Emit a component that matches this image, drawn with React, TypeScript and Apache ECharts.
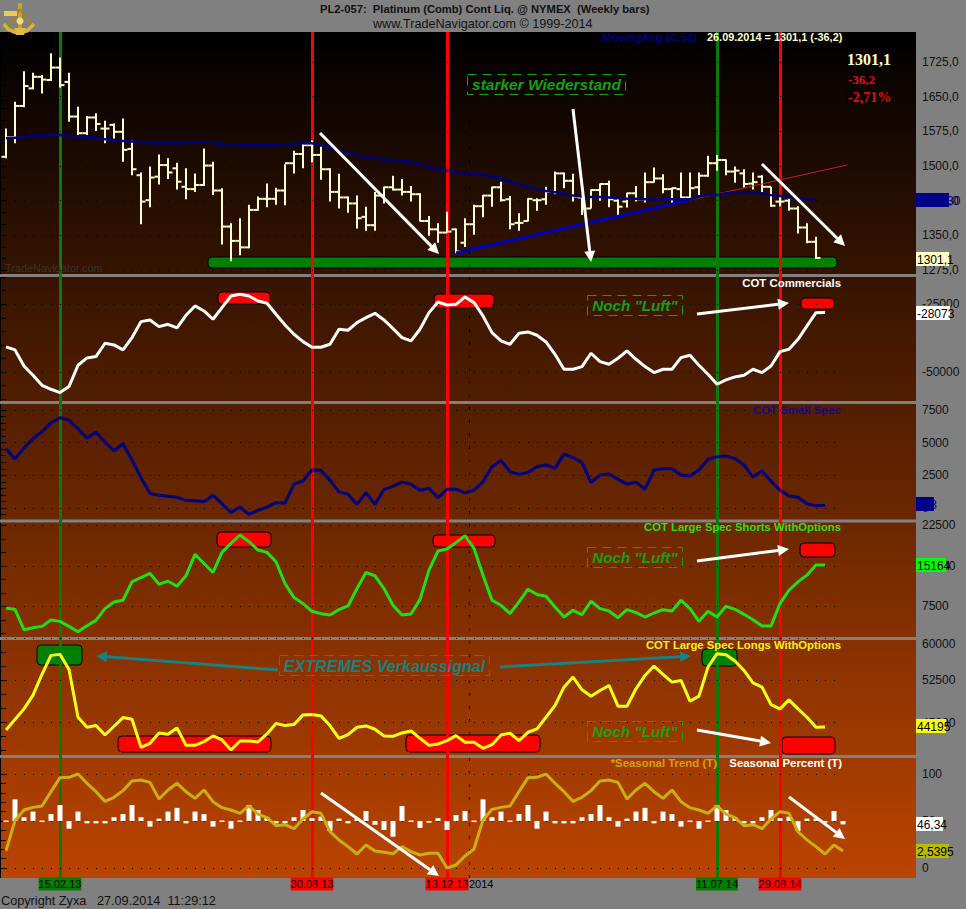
import React, { useEffect, useRef } from "react";
import * as echarts from "echarts";

const opens = [
  1520,1562,1630,1668,1693,1686,1713,1682,1607,1571,
  1605,1581,1589,1574,1537,1480,1426,1477,1502,1495,
  1455,1450,1459,1501,1447,1369,1338,1324,1405,1429,
  1429,1447,1506,1526,1545,1524,1493,1444,1432,1419,
  1390,1372,1436,1454,1449,1444,1439,1381,1363,1356,
  1363,1334,1374,1413,1436,1454,1428,1377,1381,1426,
  1428,1444,1484,1468,1432,1408,1448,1461,1425,1423,
  1441,1428,1465,1473,1450,1450,1432,1454,1479,1506,
  1513,1488,1484,1462,1477,1455,1423,1425,1408,1367,
  1336,
];
const highs = [
  1581,1639,1705,1702,1697,1744,1735,1702,1628,1608,
  1614,1598,1592,1603,1556,1486,1499,1525,1517,1507,
  1495,1484,1538,1509,1452,1376,1387,1416,1434,1462,
  1453,1504,1533,1549,1555,1542,1495,1483,1434,1436,
  1412,1444,1455,1479,1472,1457,1441,1392,1376,1401,
  1365,1387,1416,1437,1455,1466,1435,1398,1430,1430,
  1455,1488,1486,1483,1434,1449,1462,1468,1428,1442,
  1457,1486,1497,1482,1453,1486,1486,1486,1522,1524,
  1514,1499,1493,1486,1480,1455,1437,1430,1413,1376,
  1347,
];
const lows = [
  1517,1549,1627,1666,1657,1684,1670,1596,1567,1567,
  1576,1549,1556,1509,1480,1374,1411,1460,1472,1449,
  1428,1444,1457,1437,1330,1294,1307,1322,1403,1411,
  1416,1415,1484,1495,1508,1470,1423,1408,1399,1365,
  1360,1360,1419,1447,1436,1423,1380,1349,1334,1356,
  1311,1325,1351,1389,1412,1423,1363,1360,1380,1403,
  1416,1439,1452,1423,1394,1408,1425,1411,1390,1410,
  1423,1421,1464,1441,1419,1430,1426,1437,1477,1490,
  1480,1464,1453,1449,1442,1412,1413,1403,1354,1333,
  1299,
];
const closes = [
  1562,1630,1673,1693,1687,1713,1675,1607,1571,1605,
  1591,1581,1574,1535,1493,1423,1475,1502,1486,1466,
  1450,1459,1501,1447,1369,1338,1324,1405,1429,1429,
  1447,1506,1526,1545,1524,1493,1444,1432,1419,1387,
  1372,1436,1454,1449,1444,1439,1381,1363,1356,1358,
  1315,1374,1413,1436,1454,1426,1374,1377,1429,1426,
  1444,1484,1468,1434,1408,1448,1461,1428,1412,1441,
  1428,1465,1473,1450,1452,1432,1452,1479,1506,1513,
  1488,1490,1461,1465,1455,1414,1423,1408,1367,1336,
  1301.1,
];
const movingAvg = [
  1560,1561,1563,1566,1566,1567,1567,1565,1563,1562,
  1561,1558,1557,1554,1553,1550,1550,1549,1549,1549,
  1550,1550,1552,1550,1548,1546,1545,1545,1545,1545,
  1545,1546,1548,1549,1549,1545,1540,1533,1529,1523,
  1519,1516,1514,1513,1511,1509,1504,1498,1493,1490,
  1487,1485,1483,1481,1478,1473,1466,1460,1455,1450,
  1446,1443,1440,1436,1434,1433,1433,1432,1431,1429,
  1429,1428,1428,1428,1428,1428,1428,1434,1437,1437,
  1441,1443,1443,1442,1441,1437,1435,1432,1430,1428,
  1424,
];
const commercials = [
  -40740,-41850,-47760,-51200,-54890,-56370,-57600,-55380,-47500,-44800,
  -44310,-39390,-40000,-41850,-37300,-31400,-30780,-33240,-32380,-33730,
  -29060,-25600,-27460,-30530,-26230,-21930,-21310,-21930,-23770,-24630,
  -28690,-32630,-36070,-38780,-40870,-40870,-39760,-34230,-34590,-31770,
  -29920,-28320,-30780,-33980,-37300,-38530,-34230,-28080,-24140,-25250,
  -25000,-22290,-24390,-29310,-35460,-38530,-39760,-35700,-35210,-36440,
  -38900,-43450,-48990,-48990,-48000,-43080,-46160,-47140,-44930,-42220,
  -45300,-48000,-50220,-48990,-48990,-44680,-43820,-47510,-50830,-54520,
  -52920,-51810,-51200,-48990,-50220,-47760,-42470,-41600,-37920,-33000,
  -28100,-28073,
];
const smallSpec = [
  4531,3757,4583,5305,5847,6518,6905,6724,6054,5357,
  5796,5047,4377,4918,3680,2313,1100,971,894,816,
  584,558,481,971,326,-345,68,-490,-190,68,
  403,378,1822,2080,2906,2880,2132,1229,1048,274,
  1177,274,1410,1668,1977,1822,1358,1513,790,1435,
  1435,1152,1358,2003,3164,3628,2777,2571,2725,3164,
  3293,3035,4144,3861,3474,1951,2519,2596,2209,1822,
  1977,1435,2906,3009,3009,2519,2442,2906,3732,3912,
  3990,3783,3293,2364,2829,2055,1358,919,816,326,
  171,197,
];
const largeSpecShorts = [
  7128,6942,3160,3532,3780,4958,4710,3780,2788,3904,
  4896,7066,8306,8616,12026,12832,13576,11592,12150,11220,
  13142,17110,15436,13762,17482,19156,20706,19466,17916,17482,
  15746,11716,9112,7996,6570,6136,5888,6880,7562,10786,
  13762,13142,10786,7686,5888,6074,8740,14196,17730,18102,
  19280,20582,18226,13266,8616,7686,6136,8306,10662,9670,
  9360,7376,5516,6756,5950,8430,7066,6632,5392,6880,
  6322,5516,6260,6880,6632,8616,7066,4710,6570,5516,
  7500,6942,6012,5020,3842,3842,7996,10476,12026,13266,
  15126,15164,
];
const largeSpecLongs = [
  43694,45538,47442,49901,53571,56962,57141,54464,45955,44170,
  44468,42801,44349,45896,45598,40600,41314,43158,42920,44051,
  40957,40957,41612,42623,41909,40124,41730,41730,41552,42980,
  44825,44468,44646,46372,46431,46193,44468,42207,42861,44170,
  44408,43813,42623,42564,43158,43516,42207,40957,41195,41790,
  42683,41492,41492,40422,41076,42801,43099,41790,43278,43873,
  45955,48038,51310,53095,50834,49704,50715,51608,47918,47918,
  51013,53393,55059,53571,52203,52500,48811,49704,54880,57260,
  57081,55951,54285,52083,51310,48216,47442,49049,47442,45955,
  44170,44195,
];
const seasonalTrend = [
  18.4,50.4,61.7,64.5,66,81.2,96.1,96.5,100,90.1,
  81.2,70.9,75.2,82.3,92.6,93.6,91.1,73.4,83,90.1,
  81.2,74.1,83,70.6,64.2,61.7,58.2,66,57.4,53.5,
  45,46.1,41.8,52.1,59.9,58.2,38.7,29.8,22.7,14.9,
  24.5,18.1,16.7,15.2,22.7,17.4,13.8,15.6,15.6,0,
  3.2,12.8,20.2,51.1,62.4,64.5,66,81.2,96.1,96.5,
  100,90.1,81.2,70.9,75.2,82.3,92.6,93.6,91.1,73.4,
  83,90.1,81.2,74.1,83,70.6,64.2,61.7,58.2,66,
  57.4,53.5,45,46.1,41.8,52.1,59.9,58.2,38.7,29.8,
  22.7,14.9,24.5,18.1,
];
const seasonalPercent = [
  50.5,73,54,60,50.5,57.4,67,41.8,60,47.5,
  47.5,47.5,54,57.4,67,54,44,52.5,60,64,
  47.5,60,57.4,44,50.5,41.8,50.5,67,61.7,54,
  47.5,47.5,54,61.7,53,54.6,39.4,52.5,47.5,52.5,
  60.6,46,40.4,33.3,66,50.5,42.6,48.2,53,40.4,
  56.4,60.6,50.5,73,54,60,50.5,57.4,67,41.8,
  60,47.5,47.5,47.5,54,57.4,67,54,44,52.5,
  60,64,47.5,60,57.4,44,50.5,41.8,50.5,67,
  61.7,54,47.5,47.5,54,61.7,53,54.6,39.4,52.5,
  52.5,48,60.6,46.34,
];
const dateLabels: [number, string, string][] = [
  [6, "15.02.13", "g"],
  [34, "30.08.13", "r"],
  [49, "13.12.13", "r"],
  [52.8, "2014", "n"],
  [79, "11.07.14", "g"],
  [86, "29.08.14", "r"],
];
const greenDates = [6, 79];
const redDates = [34, 49, 86];
const yearLine = 51.44;

const FONT = '"Liberation Sans", Arial, sans-serif';
const SERIF = '"Liberation Serif", serif';
const XMIN = -5 / 9;
const XMAX = 910 / 9;
const idx = (arr: number[]) => arr.map((v, i) => [i, v]);

const panels = [
  { top: 38.9, height: 231.1, min: 1275, max: 1775, interval: 25, labelEvery: 75, fmt: (v: number) => v.toFixed(1).replace(".", ",") },
  { top: 277.2, height: 121.9, min: -60000, max: -15000, interval: 5000, labelEvery: 25000, fmt: (v: number) => String(v) },
  { top: 403.5, height: 111, min: -500, max: 8000, interval: 500, labelEvery: 2500, fmt: (v: number) => String(v) },
  { top: 525.3, height: 108, min: 2500, max: 22500, interval: 2500, labelEvery: 7500, fmt: (v: number) => String(v) },
  { top: 638.3, height: 112.4, min: 40000, max: 60000, interval: 2500, labelEvery: 7500, fmt: (v: number) => String(v) },
  { top: 774, height: 94, min: 0, max: 100, interval: 10, labelEvery: 50, fmt: (v: number) => String(v) },
];

function dottedLines(p: any) {
  const out: any[] = [];
  const first = Math.ceil(p.min / p.labelEvery) * p.labelEvery;
  for (let v = first; v <= p.max; v += p.labelEvery) {
    out.push([{ coord: [0, v] }, { coord: [93, v] }]);
  }
  return {
    silent: true,
    symbol: "none",
    animation: false,
    label: { show: false },
    lineStyle: { color: "#000", width: 1, type: [1, 8], opacity: 0.85 },
    data: out,
  };
}

function arrow(x1: number, y1: number, x2: number, y2: number, color = "#fff", w = 3, z = 8) {
  const a = Math.atan2(y2 - y1, x2 - x1);
  const L = 11, H = 5.5;
  const bx = x2 - L * Math.cos(a), by = y2 - L * Math.sin(a);
  const nx = -Math.sin(a), ny = Math.cos(a);
  return [
    { type: "line", z, silent: true, shape: { x1, y1, x2: bx, y2: by }, style: { stroke: color, lineWidth: w } },
    { type: "polygon", z, silent: true, shape: { points: [[x2, y2], [bx + nx * H, by + ny * H], [bx - nx * H, by - ny * H]] }, style: { fill: color } },
  ];
}
function zone(x: number, y: number, w: number, h: number, fill: string) {
  return { type: "rect", z: 4, silent: true, shape: { x, y, width: w, height: h, r: 4 }, style: { fill, stroke: "#000", lineWidth: 1 } };
}
function tag(x: number, y: number, w: number, h: number, text: string, color: string, size: number) {
  return [
    { type: "rect", z: 7, silent: true, shape: { x, y, width: w, height: h }, style: { fill: "none", stroke: color, lineWidth: 1, lineDash: [9, 6] } },
    { type: "text", z: 7, silent: true, style: { text, x: x + w / 2, y: y + h / 2, fill: color, font: `italic bold ${size}px ${FONT}`, align: "center", verticalAlign: "middle" } },
  ];
}
function txt(x: number, y: number, text: string, fill: string, font: string, align = "left", z = 7) {
  return { type: "text", z, silent: true, style: { text, x, y, fill, font, align, verticalAlign: "middle" } };
}
function valueBox(y: number, w: number, fill: string, text: string, color = "#000") {
  return [
    { type: "rect", z: 8, silent: true, shape: { x: 916, y, width: w, height: 14 }, style: { fill } },
    txt(917, y + 7.5, text, color, `12px ${FONT}`, "left", 9),
  ];
}
function hline(x1: number, y1: number, x2: number, y2: number, stroke: string, lineWidth: number, z = 6) {
  return { type: "line", z, silent: true, shape: { x1, y1, x2, y2 }, style: { stroke, lineWidth } };
}

function buildGraphics() {
  const els: any[] = [
    {
      type: "rect", z: -10, silent: true, shape: { x: 1, y: 32, width: 915, height: 846 },
      style: { fill: new echarts.graphic.LinearGradient(0, 0, 0, 1, [{ offset: 0, color: "#000000" }, { offset: 1, color: "#BB4400" }]) },
    },
    { type: "rect", z: -9, silent: true, shape: { x: 0, y: 32, width: 1, height: 846 }, style: { fill: "#000" } },
    // panel dividers
    ...[275.5, 402.5, 521, 638.5, 756.5].map((y) => hline(0, y, 916, y, "#808080", 3, 3)),
    // logo: a gold sextant
    hline(20, 3, 20, 30, "#C9A227", 4, 8),
    hline(20, 9, 8, 27, "#A8841C", 2, 8),
    hline(20, 9, 32, 26, "#A8841C", 2, 8),
    { type: "polyline", z: 8, silent: true, shape: { points: [[4, 24], [8, 29], [14, 32], [20, 33], [27, 31], [34, 24]] }, style: { stroke: "#D9B530", lineWidth: 3.5, fill: "none" } },
    { type: "polygon", z: 8, silent: true, shape: { points: [[14, 28], [26, 28], [24, 35], [16, 35]] }, style: { fill: "#E0BE3A" } },
    { type: "rect", z: 8, silent: true, shape: { x: 4, y: 11, width: 13, height: 5 }, style: { fill: "#EBCB55" } },
    { type: "circle", z: 8, silent: true, shape: { cx: 20, cy: 21, r: 3.5 }, style: { fill: "#F3DC7A" } },
    // titles
    txt(320, 9, "PL2-057:  Platinum (Comb) Cont Liq. @ NYMEX  (Weekly bars)", "#111", `bold 11.2px ${FONT}`),
    txt(373, 24, "www.TradeNavigator.com © 1999-2014", "#111", `12.6px ${FONT}`),
    txt(1, 901, "Copyright Zyxa   27.09.2014  11:29:12", "#111", `12.7px ${FONT}`),
    // panel captions
    txt(602, 37, "MovingAvg (C,52)", "#00007F", `bold 11.3px ${FONT}`),
    txt(707, 37, "26.09.2014 = 1301,1 (-36,2)", "#FFFFCC", `bold 10.9px ${FONT}`),
    { type: "rect", z: 6, silent: true, shape: { x: 847, y: 90, width: 43, height: 14 }, style: { fill: "#080300" } },
    txt(847, 59, "1301,1", "#FFFFCC", `bold 16px ${SERIF}`),
    txt(848, 79, "-36,2", "#E01010", `bold 13px ${SERIF}`),
    txt(848, 97, "-2,71%", "#E01010", `bold 14px ${SERIF}`),
    txt(5, 268, "TradeNavigator.com", "#3c3329", `10.9px ${FONT}`),
    txt(841, 283, "COT Commercials", "#FFFFFF", `bold 11.4px ${FONT}`, "right"),
    txt(841, 410, "COT Small Spec", "#1C0A80", `bold 11.4px ${FONT}`, "right"),
    txt(841, 527, "COT Large Spec Shorts WithOptions", "#33DD11", `bold 11.3px ${FONT}`, "right"),
    txt(841, 645, "COT Large Spec Longs WithOptions", "#FFEE22", `bold 11.3px ${FONT}`, "right"),
    txt(717, 763, "*Seasonal Trend (T)", "#D2A014", `bold 11.4px ${FONT}`, "right"),
    txt(842, 763, "Seasonal Percent (T)", "#FFFFFF", `bold 11.4px ${FONT}`, "right"),
    // zones
    zone(208, 257, 629, 11, "#008000"),
    zone(218, 292, 52, 12, "#FF0000"),
    zone(434, 294, 60, 14, "#FF0000"),
    zone(801, 298, 33, 11, "#FF0000"),
    zone(217, 532, 54, 15, "#FF0000"),
    zone(433, 535, 62, 12, "#FF0000"),
    zone(800, 543, 35, 14, "#FF0000"),
    zone(37, 645, 45, 20, "#008000"),
    zone(702, 649, 35, 17, "#008000"),
    zone(118, 736, 153, 16, "#FF0000"),
    zone(406, 735, 134, 17, "#FF0000"),
    zone(782, 737, 53, 17, "#FF0000"),
    // trend lines
    hline(456, 253, 690, 200, "#0000C0", 3),
    hline(690, 200, 847, 165, "#C02020", 1),
    // tags
    ...tag(467.5, 74.5, 158, 20, "starker Wiederstand", "#14A014", 15.5),
    ...tag(587.5, 295.5, 95, 20, 'Noch "Luft"', "#14A014", 15.2),
    ...tag(587.5, 547.5, 95, 20, 'Noch "Luft"', "#14A014", 15.2),
    ...tag(587.5, 721.5, 95, 20, 'Noch "Luft"', "#14A014", 15.2),
    ...tag(279.5, 655.5, 210, 20, "EXTREMES Verkaussignal", "#1A8080", 16.1),
    // arrows
    ...arrow(320, 133, 439, 254),
    ...arrow(573, 109, 591, 262),
    ...arrow(762, 164, 845, 246),
    ...arrow(697, 314, 789, 303),
    ...arrow(697, 561, 789, 549),
    ...arrow(697, 730, 771, 743),
    ...arrow(278, 670, 96, 656, "#1A8080"),
    ...arrow(500, 667, 691, 656, "#1A8080"),
    ...arrow(321, 793, 439, 876),
    ...arrow(789, 797, 845, 839),
    // value boxes
    ...valueBox(252, 33, "#FFFFCC", "1301,1"),
    ...valueBox(193, 33, "#000090", "1428,30", "#00007A"),
    ...valueBox(306, 34, "#FFFFFF", "-28073"),
    ...valueBox(497, 18, "#000090", "253", "#00007A"),
    ...valueBox(558, 30, "#00FF00", "15164"),
    ...valueBox(719, 30, "#FFFF00", "44195"),
    ...valueBox(817, 27, "#FFFFFF", "46,34"),
    ...valueBox(844, 33, "#BBBB00", "2,5395"),
  ];
  return els;
}

function ohlcRender(_: any, api: any) {
  const i = api.value(0);
  const [x, yo] = api.coord([i, api.value(1)]);
  const yh = api.coord([i, api.value(2)])[1];
  const yl = api.coord([i, api.value(3)])[1];
  const yc = api.coord([i, api.value(4)])[1];
  const style = { stroke: "#FFFFCC", lineWidth: 2 };
  return {
    type: "group",
    children: [
      { type: "line", shape: { x1: x, y1: yh, x2: x, y2: yl }, style },
      { type: "line", shape: { x1: x - 4.5, y1: yo, x2: x, y2: yo }, style },
      { type: "line", shape: { x1: x, y1: yc, x2: x + 4.5, y2: yc }, style },
    ],
  };
}
function percentRender(_: any, api: any) {
  const i = api.value(0);
  const [x, y0] = api.coord([i, 50]);
  const y1 = api.coord([i, api.value(1)])[1];
  const top = Math.min(y0, y1);
  const h = Math.max(Math.abs(y1 - y0), 1.5);
  return { type: "rect", shape: { x: x - 2.5, y: top, width: 5, height: h }, style: { fill: "#FFFFFF" } };
}

function buildOption() {
  const grid: any[] = panels.map((p) => ({ left: 1, width: 915, top: p.top, height: p.height }));
  grid.push({ left: 1, width: 915, top: 32, height: 846 });
  const xAxis: any[] = panels.map((_, i) => ({
    type: "value", gridIndex: i, min: XMIN, max: XMAX, show: false, splitLine: { show: false },
  }));
  xAxis.push({
    type: "value", gridIndex: 6, min: XMIN, max: XMAX, position: "bottom",
    axisLine: { show: false }, axisTick: { show: false }, splitLine: { show: false },
    axisLabel: {
      customValues: dateLabels.map((d) => d[0]),
      margin: 0,
      hideOverlap: false,
      showMinLabel: true,
      showMaxLabel: true,
      formatter: (v: number) => {
        const d = dateLabels.find((e) => e[0] === v);
        return d ? `{${d[2]}|${d[1]}}` : "";
      },
      rich: {
        g: { backgroundColor: "#007F00", color: "#000", fontFamily: FONT, fontSize: 11, padding: [1, 0, 1, 0], lineHeight: 12 },
        r: { backgroundColor: "#FF0000", color: "#000", fontFamily: FONT, fontSize: 11, padding: [1, 0, 1, 0], lineHeight: 12 },
        n: { color: "#000", fontFamily: FONT, fontSize: 11, padding: [1, 0, 1, 0], lineHeight: 12 },
      },
    },
  });
  const yAxis: any[] = panels.map((p, i) => ({
    type: "value", gridIndex: i, position: "right", min: p.min, max: p.max, interval: p.interval,
    axisLine: { show: false },
    splitLine: { show: false },
    axisTick: { show: true, inside: true, length: 9, lineStyle: { color: "#000", width: 1 } },
    axisLabel: {
      margin: 6,
      color: "#111",
      fontFamily: FONT,
      fontSize: 12,
      verticalAlignMaxLabel: i === 4 ? "top" : undefined,
      formatter: (v: number) => (v % p.labelEvery === 0 ? p.fmt(v) : ""),
    },
  }));
  yAxis.push({ type: "value", gridIndex: 6, min: 0, max: 1, show: false, splitLine: { show: false } });

  const ohlc = opens.map((o, i) => [i, o, highs[i], lows[i], closes[i]]);
  const lineBase = { type: "line", showSymbol: false, symbol: "none", z: 5, lineStyle: { width: 3 }, silent: true };

  const series: any[] = [
    {
      type: "line", xAxisIndex: 6, yAxisIndex: 6, data: [[0, 0]], showSymbol: false, z: 1, silent: true, lineStyle: { opacity: 0 },
      markLine: {
        silent: true, symbol: "none", animation: false, label: { show: false },
        data: [
          ...greenDates.map((v) => ({ xAxis: v, lineStyle: { color: "#0A7A0A", width: 3, type: "solid" } })),
          ...redDates.map((v) => ({ xAxis: v, lineStyle: { color: "#FF0000", width: 3, type: "solid" } })),
          { xAxis: yearLine, lineStyle: { color: "#000", width: 1, type: [3, 10] } },
        ],
      },
    },
    {
      type: "custom", name: "Platinum", xAxisIndex: 0, yAxisIndex: 0, renderItem: ohlcRender, z: 5, silent: true,
      encode: { x: 0, y: [1, 2, 3, 4] }, data: ohlc, markLine: dottedLines(panels[0]),
    },
    { ...lineBase, name: "MovingAvg (C,52)", xAxisIndex: 0, yAxisIndex: 0, data: idx(movingAvg), z: 6, lineStyle: { width: 2.5, color: "#00007F" }, itemStyle: { color: "#00007F" } },
    { ...lineBase, name: "COT Commercials", xAxisIndex: 1, yAxisIndex: 1, data: idx(commercials), lineStyle: { width: 3, color: "#FFFFFF" }, markLine: dottedLines(panels[1]) },
    { ...lineBase, name: "COT Small Spec", xAxisIndex: 2, yAxisIndex: 2, data: idx(smallSpec), lineStyle: { width: 3, color: "#00007F" }, markLine: dottedLines(panels[2]) },
    { ...lineBase, name: "COT Large Spec Shorts WithOptions", xAxisIndex: 3, yAxisIndex: 3, data: idx(largeSpecShorts), lineStyle: { width: 3, color: "#22E010" }, markLine: dottedLines(panels[3]) },
    { ...lineBase, name: "COT Large Spec Longs WithOptions", xAxisIndex: 4, yAxisIndex: 4, data: idx(largeSpecLongs), lineStyle: { width: 3, color: "#FFFF11" }, markLine: dottedLines(panels[4]) },
    {
      type: "custom", name: "Seasonal Percent (T)", xAxisIndex: 5, yAxisIndex: 5, renderItem: percentRender, z: 5, silent: true,
      encode: { x: 0, y: 1 }, data: idx(seasonalPercent), markLine: dottedLines(panels[5]),
    },
    { ...lineBase, name: "*Seasonal Trend (T)", xAxisIndex: 5, yAxisIndex: 5, data: idx(seasonalTrend), z: 6, lineStyle: { width: 3, color: "#C9B010" } },
  ];
  return {
    animation: false,
    backgroundColor: "#808080",
    grid, xAxis, yAxis, series,
    graphic: { elements: buildGraphics() },
  };
}

export default function App() {
  const ref = useRef<HTMLDivElement>(null);
  useEffect(() => {
    document.body.style.margin = "0";
    document.body.style.background = "#808080";
    const chart = echarts.init(ref.current!, undefined, { renderer: "svg" });
    chart.setOption(buildOption() as any);
    return () => chart.dispose();
  }, []);
  return <div ref={ref} style={{ position: "absolute", left: 0, top: 0, width: 966, height: 909 }} />;
}
